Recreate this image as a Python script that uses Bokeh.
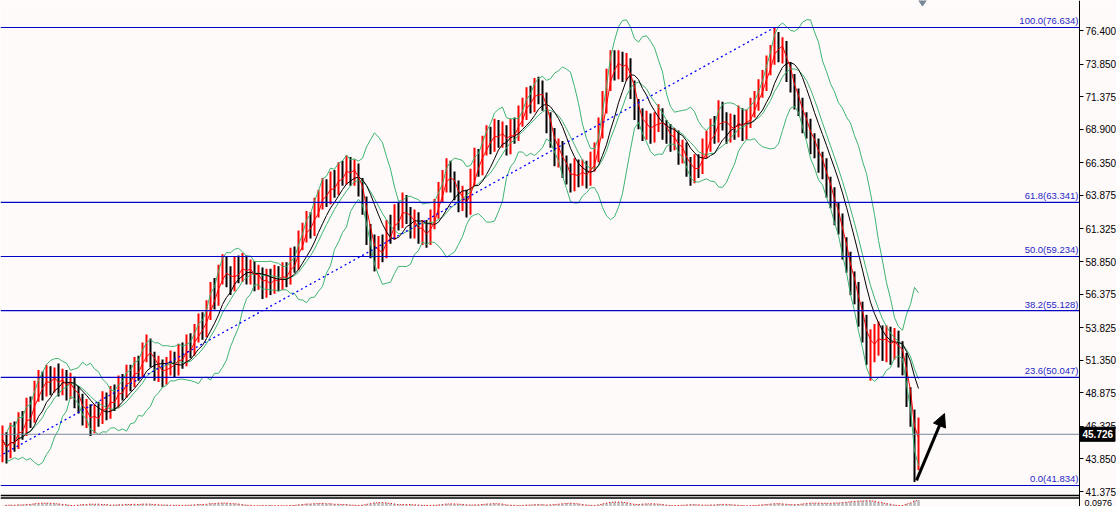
import numpy as np
import pandas as pd
from bokeh.plotting import figure
from bokeh.models import (Range1d, LinearAxis, FixedTicker, Arrow,
                          NormalHead, NumeralTickFormatter, ColumnDataSource)
from bokeh.core.properties import value
from bokeh.embed import file_html
from bokeh.resources import INLINE

# ---------------- data ----------------
first_open = 45.0
close = [
    45.3, 44.2, 45.8, 45.1, 46.6, 46.0, 47.6, 47.0, 48.9, 49.6,
    49.1, 50.4, 49.5, 50.2, 49.3, 50.1, 49.0, 49.8, 48.5, 48.2,
    47.0, 47.6, 46.3, 47.4, 47.0, 48.3, 47.5, 48.7, 48.2, 49.4,
    49.0, 50.2, 49.8, 50.9, 50.5, 51.9, 52.4, 51.5, 50.6, 50.9,
    50.1, 50.9, 51.3, 50.8, 51.9, 51.4, 52.6, 52.2, 53.3, 54.0,
    53.6, 55.0, 56.5, 56.0, 57.8, 58.5, 57.6, 57.2, 58.3, 58.0,
    58.6, 57.9, 58.3, 57.4, 57.9, 56.8, 57.6, 57.0, 57.8, 57.3,
    58.0, 57.6, 59.1, 58.7, 60.4, 60.9, 61.8, 61.3, 62.9, 63.4,
    64.3, 63.8, 64.9, 64.4, 65.6, 65.3, 66.2, 65.3, 65.9, 64.6,
    63.2, 61.0, 60.2, 59.0, 60.0, 59.6, 61.3, 61.0, 62.4, 62.0,
    63.2, 62.5, 61.3, 62.0, 60.9, 61.2, 60.7, 62.0, 62.7, 64.0,
    64.8, 65.9, 64.9, 64.3, 63.4, 63.7, 62.9, 65.2, 66.6, 66.0,
    67.6, 68.3, 67.8, 68.9, 68.3, 68.6, 67.7, 68.9, 68.6, 69.8,
    70.3, 71.3, 70.9, 72.0, 71.6, 71.1, 69.4, 68.3, 67.0, 67.4,
    66.0, 65.6, 64.9, 65.9, 65.3, 65.8, 65.2, 66.4, 66.9, 68.9,
    70.9, 72.4, 74.2, 73.5, 74.1, 73.4, 73.9, 72.0, 70.5, 69.8,
    68.8, 69.5, 68.6, 69.4, 69.9, 68.9, 68.6, 68.0, 68.3, 67.0,
    67.3, 66.1, 65.5, 66.2, 66.0, 67.4, 67.9, 68.9, 68.5, 70.3,
    69.5, 68.6, 69.3, 68.9, 69.9, 68.8, 69.6, 70.4, 70.9, 71.9,
    72.4, 73.7, 74.3, 75.8, 74.8, 75.1, 73.2, 72.5, 71.2, 70.7,
    69.4, 69.0, 67.8, 67.6, 66.4, 66.0, 64.5, 63.8, 62.5, 61.8,
    59.9, 58.9, 57.2, 56.6, 54.8, 53.9, 52.2, 52.6, 52.9, 53.4,
    52.4, 53.1, 52.3, 53.0, 52.0, 51.5, 48.5, 47.2, 43.4, 45.726,
]
high = [
    46.4, 45.9, 46.6, 46.7, 47.4, 47.5, 48.5, 48.6, 49.8, 50.6,
    50.5, 51.0, 50.9, 50.8, 51.1, 50.7, 50.6, 50.4, 50.1, 49.4,
    48.8, 48.4, 48.0, 48.0, 48.2, 49.0, 48.9, 49.4, 49.5, 50.2,
    50.3, 51.0, 51.0, 51.6, 51.7, 52.7, 53.3, 53.0, 52.0, 51.7,
    51.4, 51.6, 52.1, 52.0, 52.6, 52.7, 53.3, 53.4, 54.1, 54.9,
    55.0, 55.9, 57.3, 57.6, 58.6, 59.4, 59.2, 58.5, 59.2, 59.3,
    59.5, 59.3, 59.0, 58.9, 58.6, 58.4, 58.3, 58.3, 58.6, 58.5,
    58.8, 58.8, 59.9, 60.0, 61.2, 61.8, 62.7, 62.6, 63.7, 64.3,
    65.2, 65.1, 65.7, 65.8, 66.4, 66.5, 66.9, 66.8, 66.6, 66.3,
    65.2, 63.8, 61.7, 60.9, 60.8, 60.9, 62.0, 62.4, 63.2, 63.4,
    64.1, 63.9, 63.0, 62.8, 62.6, 62.0, 62.0, 62.8, 63.6, 64.9,
    65.8, 66.7, 66.5, 65.7, 65.0, 64.6, 64.3, 65.9, 67.5, 67.4,
    68.4, 69.2, 69.1, 69.7, 69.6, 69.5, 69.2, 69.7, 69.8, 70.7,
    71.3, 72.1, 72.2, 72.8, 72.9, 72.6, 71.7, 70.2, 69.0, 68.2,
    68.0, 66.9, 66.3, 66.7, 66.6, 66.6, 66.5, 67.2, 67.9, 69.8,
    71.8, 73.5, 74.9, 74.9, 74.9, 74.8, 74.7, 74.3, 72.6, 71.2,
    70.5, 70.3, 70.1, 70.2, 70.8, 70.5, 69.6, 69.3, 69.0, 68.8,
    68.1, 67.9, 66.8, 67.0, 67.0, 68.2, 68.8, 69.7, 69.9, 71.1,
    71.0, 70.2, 70.1, 70.0, 70.7, 70.5, 70.4, 71.3, 71.8, 72.7,
    73.4, 74.5, 75.3, 76.634, 76.3, 75.9, 75.6, 74.0, 73.1, 72.0,
    71.3, 70.2, 69.7, 68.6, 68.2, 67.2, 66.7, 65.3, 64.5, 63.3,
    62.5, 60.7, 59.6, 58.1, 57.3, 55.8, 54.8, 53.7, 54.1, 54.3,
    54.0, 54.0, 53.9, 53.8, 53.6, 52.8, 51.9, 49.3, 47.6, 47.0,
]
low = [
    43.6, 43.5, 43.9, 44.4, 44.6, 45.3, 45.6, 46.2, 46.6, 48.2,
    48.3, 48.6, 48.7, 48.9, 48.6, 48.7, 48.3, 48.4, 47.7, 47.3,
    46.4, 46.2, 45.6, 45.8, 46.3, 46.5, 46.8, 46.9, 47.5, 47.7,
    48.3, 48.5, 49.0, 49.3, 49.8, 50.0, 51.2, 50.8, 49.8, 49.7,
    49.3, 49.5, 50.2, 50.0, 50.2, 50.7, 50.9, 51.5, 51.7, 52.7,
    52.9, 53.1, 54.4, 55.2, 55.5, 57.1, 56.9, 56.3, 56.6, 57.2,
    57.3, 57.1, 57.1, 56.6, 56.7, 56.0, 56.1, 56.3, 56.4, 56.6,
    56.7, 56.9, 57.1, 58.0, 58.2, 59.7, 60.3, 60.6, 60.8, 62.2,
    62.8, 63.0, 63.2, 63.7, 63.9, 64.6, 64.7, 64.6, 64.6, 63.8,
    62.4, 60.1, 59.1, 58.1, 58.3, 58.8, 59.1, 60.2, 60.5, 61.2,
    61.4, 61.7, 60.6, 60.6, 60.2, 60.1, 59.9, 60.1, 61.3, 62.1,
    63.3, 64.1, 64.1, 63.5, 62.6, 62.7, 62.2, 62.4, 64.6, 65.3,
    65.4, 66.9, 67.0, 67.2, 67.5, 67.5, 66.9, 67.0, 67.8, 68.0,
    69.1, 69.6, 70.1, 70.2, 70.8, 70.3, 68.6, 67.5, 66.1, 66.0,
    65.2, 64.7, 64.1, 64.2, 64.5, 64.6, 64.4, 64.6, 65.7, 66.4,
    68.2, 70.1, 71.8, 72.6, 72.7, 72.5, 72.6, 71.2, 69.6, 68.9,
    68.0, 68.1, 67.8, 67.9, 68.7, 68.1, 67.8, 67.2, 67.3, 66.2,
    66.3, 65.3, 64.6, 64.8, 65.2, 65.5, 66.7, 67.2, 67.8, 67.9,
    68.8, 67.8, 67.9, 68.1, 68.3, 68.0, 68.1, 69.0, 69.8, 70.3,
    71.3, 71.8, 73.0, 73.8, 74.0, 73.9, 72.5, 71.7, 70.4, 69.9,
    68.6, 68.2, 67.0, 66.7, 65.6, 65.1, 63.7, 62.9, 61.6, 60.9,
    59.0, 58.0, 56.3, 55.6, 53.9, 52.7, 51.0, 49.8, 51.2, 51.7,
    51.3, 51.2, 51.0, 51.4, 50.8, 50.2, 47.8, 46.3, 42.1, 43.0,
]

fib_pcts = [100.0, 61.8, 50.0, 38.2, 23.6, 0.0]
fib_levels = [76.634, 63.341, 59.234, 55.128, 50.047, 41.834]
fib_low_bar, fib_high_bar = -14, 193
last_price = 45.726
y_ticks = [76.400, 73.850, 71.375, 68.900, 66.350, 63.875, 61.325, 58.850,
           56.375, 53.825, 51.350, 48.875, 46.325, 43.850, 41.375]
sub_label = "0.0976"
arrow_from = (228.5, 42.22)
arrow_to = (235.5, 47.3)
shift_marker_bar = 230

# ---------------- derived ----------------
n = len(close)
idx = np.arange(n)
opens = [first_open] + close[:-1]
cs = pd.Series(close)
ma_fast = cs.rolling(3, min_periods=1).mean()
ma_slow = cs.rolling(8, min_periods=1).mean()
bb_mid = cs.rolling(10, min_periods=1).mean()
bb_sd = cs.rolling(10, min_periods=2).std(ddof=0)
bb_up = bb_mid + 2 * bb_sd
bb_dn = bb_mid - 2 * bb_sd
bw = ((bb_up - bb_dn) / bb_mid).fillna(0)

colors = ["#FF0000" if c >= o else "#000000" for c, o in zip(close, opens)]
src = ColumnDataSource(dict(x=idx, hi=high, lo=low, color=colors))

BG = "#FFFAFA"
FONT = "Liberation Sans"
W, H = 1116, 506                   # whole canvas is the frame
AXIS_PX = 1079                     # where the price axis sits
PX = 0.075983                      # price per pixel
Y_TOP = 78.685
Y_BOT = Y_TOP - H * PX
X0 = -0.5
X_FULL = X0 + W / 4.0
AX_X = X0 + AXIS_PX / 4.0

p = figure(frame_width=W, frame_height=H,
           x_range=Range1d(X0, X_FULL), y_range=Range1d(Y_BOT, Y_TOP),
           output_backend="svg", toolbar_location=None,
           x_axis_location=None, y_axis_location=None,
           background_fill_color=BG, border_fill_color=BG,
           min_border=0, outline_line_color=None)
p.grid.visible = False

ax = LinearAxis(ticker=FixedTicker(ticks=y_ticks),
                formatter=NumeralTickFormatter(format="0.000"),
                fixed_location=AX_X)
ax.axis_line_color = "black"
ax.major_tick_out = 4
ax.major_tick_in = 0
ax.minor_tick_line_color = None
ax.major_label_standoff = 2
ax.major_label_text_font = FONT
ax.major_label_text_font_size = "10px"
ax.major_label_text_color = "#000000"
p.add_layout(ax, "right")

# sub-window indicator
p.extra_y_ranges = {"sub": Range1d(0, float(bw.max()) * H / 6.0)}
p.vbar(x=idx, top=bw, width=0.35, bottom=0, color="#B8B8B8", y_range_name="sub")
p.line(idx, bw, color="#FF0000", line_width=1, line_dash="1 2", y_range_name="sub")

# bars
p.segment(x0="x", y0="lo", x1="x", y1="hi", color="color", line_width=2, source=src)

# indicators
green = "#3CB371"
p.line(idx, bb_up, color=green, line_width=1)
p.line(idx, bb_dn, color=green, line_width=1)
p.line(idx, bb_mid, color=green, line_width=1)
p.line(idx, ma_slow, color="#000000", line_width=1)
p.line(idx, ma_fast, color="#FF0000", line_width=1)

# current price line
p.segment(x0=[X0], y0=[last_price], x1=[AX_X], y1=[last_price],
          color="#778899", line_width=1)

# fibonacci
nf = len(fib_levels)
p.segment(x0=[X0] * nf, y0=fib_levels, x1=[AX_X] * nf, y1=fib_levels,
          color="#0000C8", line_width=1.2)
p.text(x=[AX_X] * nf, y=fib_levels,
       text=[f"{pc:.1f}({v:.3f})" for pc, v in zip(fib_pcts, fib_levels)],
       text_align="right", text_baseline="bottom", text_color="#1F1FC8",
       text_font=value(FONT), text_font_size="9.5px", x_offset=-1, y_offset=-1)
p.line([fib_low_bar, fib_high_bar], [fib_levels[-1], fib_levels[0]], color="#0000FF",
       line_width=1.3, line_dash="2 3")

# panel separator (double line)
sep = [Y_TOP - r * PX for r in (495, 497.5)]
p.segment(x0=[X0, X0], y0=sep, x1=[AX_X, AX_X], y1=sep, color="black", line_width=1.3)

# arrow
p.add_layout(Arrow(end=NormalHead(size=13, fill_color="black", line_color="black"),
                   x_start=arrow_from[0], y_start=arrow_from[1],
                   x_end=arrow_to[0], y_end=arrow_to[1],
                   line_color="black", line_width=3))

# chart shift marker
p.scatter(x=[shift_marker_bar], y=[Y_TOP], marker="diamond", size=11, color="#778899")

# price label on the axis
p.rect(x=[AX_X + 18 / 4.0], y=[last_price], width=35, height=14,
       width_units="screen", height_units="screen", color="black")
p.text(x=[AX_X], y=[last_price], text=[f"{last_price:.3f}"], x_offset=3,
       text_align="left", text_baseline="middle", text_color="white",
       text_font=value(FONT), text_font_size="10px", text_font_style="bold")
# sub-window scale label
p.text(x=[AX_X], y=[Y_BOT], text=[sub_label], x_offset=5, y_offset=-1,
       text_align="left", text_baseline="bottom", text_color="black",
       text_font=value(FONT), text_font_size="9px")

open("out.html", "w").write(file_html(p, INLINE))
